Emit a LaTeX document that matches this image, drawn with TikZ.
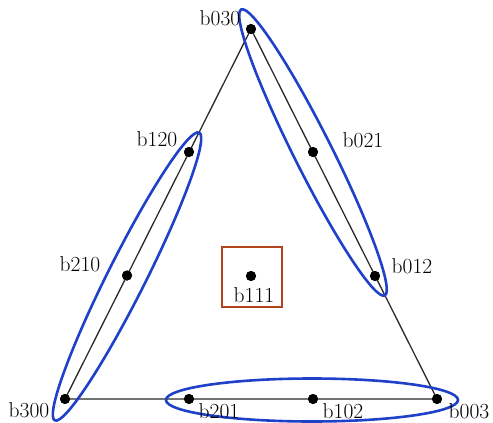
\documentclass[tikz,border=0pt]{standalone}
\usetikzlibrary{shapes.geometric}
\definecolor{ellblue}{HTML}{1F40C8}
\definecolor{boxbrown}{HTML}{B0441A}
\definecolor{edgegray}{HTML}{2A2A2A}
\tikzset{
  pt/.style={circle,fill=black,inner sep=0pt,minimum size=10pt},
  lbl/.style={font=\fontsize{21.5}{25}\selectfont,inner sep=0pt},
  edge/.style={edgegray,line width=1.3pt},
  ring/.style={ellblue,line width=2.6pt},
  boxst/.style={boxbrown,line width=2.4pt}
}
\begin{document}
\begin{tikzpicture}[x=1pt,y=-1pt]
\useasboundingbox (0,0) rectangle (493,423);
% control points
\node[pt] (b030) at (251,29) {};
\node[pt] (b300) at (65,399) {};
\node[pt] (b003) at (437,399) {};
\node[pt] (b120) at (189,152) {};
\node[pt] (b210) at (127,275.5) {};
\node[pt] (b021) at (313,152) {};
\node[pt] (b012) at (375,276) {};
\node[pt] (b201) at (189,399) {};
\node[pt] (b102) at (313,399) {};
\node[pt] (b111) at (251,276) {};
% triangle
\draw[edge] (b030.center) -- (b300.center) -- (b003.center) -- cycle;
% ellipses
\draw[ring,rotate around={63.34:(127,276.5)}] (127,276.5) ellipse [x radius=161, y radius=19];
\draw[ring,rotate around={-63.34:(313,152.5)}] (313,152.5) ellipse [x radius=160, y radius=19];
\draw[ring] (312,400) ellipse [x radius=146, y radius=21.5];
% square
\draw[boxst] (222,247) rectangle (282,307);
% redraw dots on top
\foreach \n in {b030,b300,b003,b120,b210,b021,b012,b201,b102,b111}
  \fill (\n) circle (5pt);
% labels
\node[lbl] (l030) at (220,18) {b030};
\node[lbl] (l120) at (157,139) {b120};
\node[lbl] (l210) at (80,264) {b210};
\node[lbl] (l300) at (29,410) {b300};
\node[lbl] (l021) at (363,140) {b021};
\node[lbl] (l012) at (412,266) {b012};
\node[lbl] (l201) at (219,411) {b201};
\node[lbl] (l102) at (343,411) {b102};
\node[lbl] (l003) at (469,411) {b003};
\node[lbl] (l111) at (254,295) {b111};
\end{tikzpicture}
\end{document}
